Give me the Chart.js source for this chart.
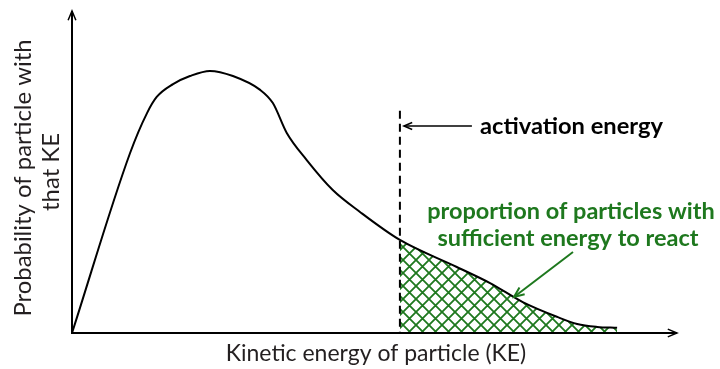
<!DOCTYPE html>
<html>
<head>
<meta charset="utf-8">
<script src="https://cdn.jsdelivr.net/npm/chart.js@4/dist/chart.umd.min.js"></script>
<style>
  html, body { margin: 0; padding: 0; background: #fff; }
  #wrap { width: 720px; height: 369px; position: relative; }
</style>
</head>
<body>
<div id="wrap"><canvas id="chart" width="720" height="369"></canvas></div>
<script>
// Maxwell-Boltzmann style distribution (arbitrary units)
const energy = [0, 9.6, 12.4, 14.0, 16.7, 19.5, 22.8, 26.6, 31.1, 33.2, 35.5, 38.8, 43.1, 47.6, 54.2, 63.6, 69.1, 74.5, 80.2, 83.5, 86.8, 90.1];
const probability = [0, 55.9, 68.3, 73.3, 77.3, 79.8, 81.4, 79.8, 75.5, 71.4, 62.1, 53.7, 44.4, 37.6, 28.9, 20.5, 15.5, 9.6, 5.0, 2.8, 1.9, 1.6];
const activationEnergy = 54.2;
const xTitle = 'Kinetic energy of particle (KE)';
const yTitle = ['Probability of particle with', 'that KE'];
const eaLabel = 'activation energy';
const areaLabel = ['proportion of particles with', 'sufficient energy to react'];

const GREEN = '#1e781e';
const FONT = 'Lato, "Open Sans", sans-serif';

const curve = energy.map((x, i) => ({ x, y: probability[i] }));
const tail = curve.filter(p => p.x >= activationEnergy);

// cross-hatch pattern for the shaded tail
function hatch() {
  const c = document.createElement('canvas');
  c.width = 13; c.height = 13;
  const g = c.getContext('2d');
  g.strokeStyle = GREEN;
  g.lineWidth = 1.8;
  g.beginPath();
  g.moveTo(-1, -1); g.lineTo(14, 14);
  g.moveTo(14, -1); g.lineTo(-1, 14);
  g.stroke();
  return g.createPattern(c, 'repeat');
}

function arrowHead(ctx, x, y, angle, len) {
  ctx.beginPath();
  ctx.moveTo(x + len * Math.cos(angle + 0.4), y + len * Math.sin(angle + 0.4));
  ctx.lineTo(x, y);
  ctx.lineTo(x + len * Math.cos(angle - 0.4), y + len * Math.sin(angle - 0.4));
  ctx.stroke();
}

// pick a font size so the text spans the given width
function fitFont(ctx, text, width, weight) {
  ctx.font = weight + ' 20px ' + FONT;
  const size = 20 * width / ctx.measureText(text).width;
  return weight + ' ' + size.toFixed(1) + 'px ' + FONT;
}

const decorations = {
  id: 'decorations',
  afterDatasetsDraw(chart) {
    const { ctx, chartArea: a, scales } = chart;
    const xs = scales.x, ys = scales.y;
    ctx.save();
    ctx.strokeStyle = '#000';
    ctx.lineWidth = 2;

    // axes with arrow heads
    ctx.beginPath();
    ctx.moveTo(a.left, a.top);
    ctx.lineTo(a.left, a.bottom);
    ctx.lineTo(a.right, a.bottom);
    ctx.stroke();
    ctx.lineWidth = 1.5;
    arrowHead(ctx, a.left, a.top, Math.PI / 2, 10);
    arrowHead(ctx, a.right, a.bottom, Math.PI, 10);

    // activation energy marker
    const ex = xs.getPixelForValue(activationEnergy);
    ctx.lineWidth = 2;
    ctx.setLineDash([8, 5]);
    ctx.beginPath();
    ctx.moveTo(ex, ys.getPixelForValue(69));
    ctx.lineTo(ex, a.bottom);
    ctx.stroke();
    ctx.setLineDash([]);

    ctx.lineWidth = 1.5;
    ctx.beginPath();
    ctx.moveTo(ex + 72, 126);
    ctx.lineTo(ex + 4, 126);
    ctx.stroke();
    arrowHead(ctx, ex + 4, 126, 0, 9);

    ctx.fillStyle = '#000';
    ctx.font = fitFont(ctx, eaLabel, 183, 'bold');
    ctx.textBaseline = 'middle';
    ctx.textAlign = 'left';
    ctx.fillText(eaLabel, 480, 126);

    // shaded area label and pointer
    ctx.fillStyle = GREEN;
    ctx.font = fitFont(ctx, areaLabel[0], 288, 'bold');
    ctx.textAlign = 'center';
    ctx.fillText(areaLabel[0], 571, 211);
    ctx.fillText(areaLabel[1], 568, 238);

    ctx.strokeStyle = GREEN;
    ctx.lineWidth = 2;
    ctx.beginPath();
    ctx.moveTo(573, 252);
    ctx.lineTo(514, 297);
    ctx.stroke();
    arrowHead(ctx, 514, 297, Math.atan2(252 - 297, 573 - 514), 11);

    // axis titles
    ctx.fillStyle = '#231f20';
    ctx.font = fitFont(ctx, xTitle, 300, 'normal');
    ctx.textAlign = 'center';
    ctx.fillText(xTitle, 376, 354);
    ctx.font = fitFont(ctx, yTitle[0], 277, 'normal');
    ctx.save();
    ctx.translate(23, 178);
    ctx.rotate(-Math.PI / 2);
    ctx.fillText(yTitle[0], 0, 0);
    ctx.restore();
    ctx.translate(51, 172);
    ctx.rotate(-Math.PI / 2);
    ctx.fillText(yTitle[1], 0, 0);
    ctx.restore();
  }
};

new Chart(document.getElementById('chart'), {
  type: 'line',
  data: {
    datasets: [
      {
        data: curve,
        borderColor: '#000',
        borderWidth: 2,
        pointRadius: 0,
        cubicInterpolationMode: 'monotone',
        fill: false
      },
      {
        data: tail,
        borderWidth: 0,
        borderColor: 'rgba(0,0,0,0)',
        backgroundColor: hatch(),
        pointRadius: 0,
        cubicInterpolationMode: 'monotone',
        fill: 'origin'
      }
    ]
  },
  options: {
    responsive: false,
    animation: false,
    layout: { padding: { left: 72, right: 43, top: 11, bottom: 36 } },
    plugins: { legend: { display: false }, tooltip: { enabled: false } },
    scales: {
      x: { type: 'linear', min: 0, max: 100, display: false },
      y: { min: 0, max: 100, display: false }
    }
  },
  plugins: [decorations]
});
</script>
</body>
</html>
